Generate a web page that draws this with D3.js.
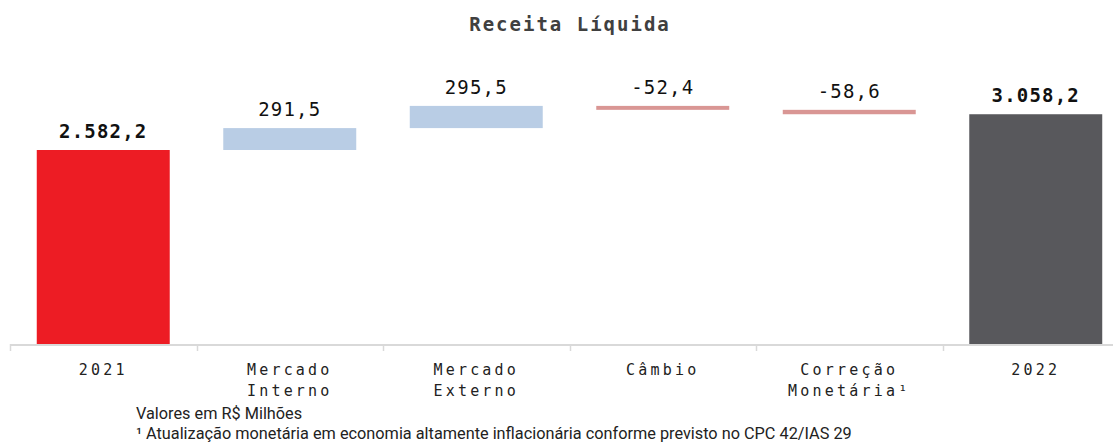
<!DOCTYPE html>
<html><head><meta charset="utf-8">
<script src="https://cdn.jsdelivr.net/npm/d3@7"></script>
<style>
html,body{margin:0;padding:0;background:#fff;}
svg{display:block;}
</style></head>
<body>
<svg id="chart" width="1113" height="443"></svg>
<script>
const categories = ["2021", "Mercado Interno", "Mercado Externo", "Câmbio", "Correção Monetária¹", "2022"];
const categoryLines = [["2021"], ["Mercado", "Interno"], ["Mercado", "Externo"], ["Câmbio"], ["Correção", "Monetária¹"], ["2022"]];
const values = [2582.2, 291.5, 295.5, -52.4, -58.6, 3058.2];
const kinds = ["total", "delta", "delta", "delta", "delta", "total"];
const title = "Receita Líquida";
const notes = ["Valores em R$ Milhões", "¹ Atualização monetária em economia altamente inflacionária conforme previsto no CPC 42/IAS 29"];

const svg = d3.select("#chart");
const baseY = 344;
const x = d3.scaleBand().domain(categories).range([10, 1129]).paddingInner(0.287).paddingOuter(0.1435);
const y = d3.scaleLinear().domain([0, 3500]).range([baseY, baseY - 3500 * (194 / 2582.2)]);
const loc = d3.formatLocale({decimal: ",", thousands: ".", grouping: [3], currency: ["R$", ""], minus: "-"});
const fmt = loc.format(",.1f");

let run = 0;
const rows = categories.map((c, i) => {
  let y0, y1;
  if (kinds[i] === "total") { y0 = 0; y1 = values[i]; run = values[i]; }
  else { y0 = run; y1 = run + values[i]; run = y1; }
  return {c, v: values[i], kind: kinds[i], lo: Math.min(y0, y1), hi: Math.max(y0, y1), i};
});
const colorOf = d => d.kind === "total" ? (d.i === 0 ? "#ED1C24" : "#58585C") : (d.v >= 0 ? "#B9CDE5" : "#D99694");

svg.append("text").attr("x", 570).attr("y", 31).attr("text-anchor", "middle")
  .attr("font-family", "DejaVu Sans Mono").attr("font-weight", "bold").attr("font-size", 19)
  .attr("letter-spacing", 2).attr("fill", "#404040").text(title);

svg.selectAll("rect.bar").data(rows).enter().append("rect").attr("class", "bar")
  .attr("x", d => x(d.c)).attr("width", x.bandwidth())
  .attr("y", d => y(d.hi)).attr("height", d => Math.max(1, y(d.lo) - y(d.hi)))
  .attr("fill", colorOf);

svg.selectAll("text.val").data(rows).enter().append("text").attr("class", "val")
  .attr("x", d => x(d.c) + x.bandwidth() / 2)
  .attr("y", d => y(d.hi) - 12)
  .attr("text-anchor", "middle")
  .attr("font-family", "DejaVu Sans Mono").attr("font-size", 19)
  .attr("font-weight", d => d.kind === "total" ? "bold" : "normal")
  .attr("letter-spacing", 1.2).attr("fill", "#111")
  .text(d => fmt(d.v));

const step = x.step();
svg.append("line").attr("x1", 10).attr("x2", 1113).attr("y1", baseY + 1).attr("y2", baseY + 1)
  .attr("stroke", "#d9d9d9").attr("stroke-width", 2);
const tickXs = d3.range(categories.length + 1).map(i => x.range()[0] + i * step);
svg.selectAll("line.tick").data(tickXs).enter().append("line").attr("class", "tick")
  .attr("x1", d => Math.round(d) + 0.5).attr("x2", d => Math.round(d) + 0.5)
  .attr("y1", baseY).attr("y2", baseY + 7).attr("stroke", "#d9d9d9").attr("stroke-width", 1.5);

const lab = svg.selectAll("text.cat").data(rows).enter().append("text").attr("class", "cat")
  .attr("text-anchor", "middle")
  .attr("font-family", "DejaVu Sans Mono").attr("font-size", 15)
  .attr("letter-spacing", 3.2).attr("fill", "#222");
lab.selectAll("tspan").data(d => categoryLines[d.i].map(t => ({t, cx: x(d.c) + x.bandwidth() / 2}))).enter()
  .append("tspan").attr("x", d => d.cx).attr("y", (d, j) => 375 + j * 21).text(d => d.t);

svg.selectAll("text.note").data(notes).enter().append("text").attr("class", "note")
  .attr("x", 136).attr("y", (d, i) => 419 + i * 20)
  .attr("font-family", "Roboto").attr("font-size", 16.3).attr("fill", "#222").text(d => d);
</script>
</body></html>
